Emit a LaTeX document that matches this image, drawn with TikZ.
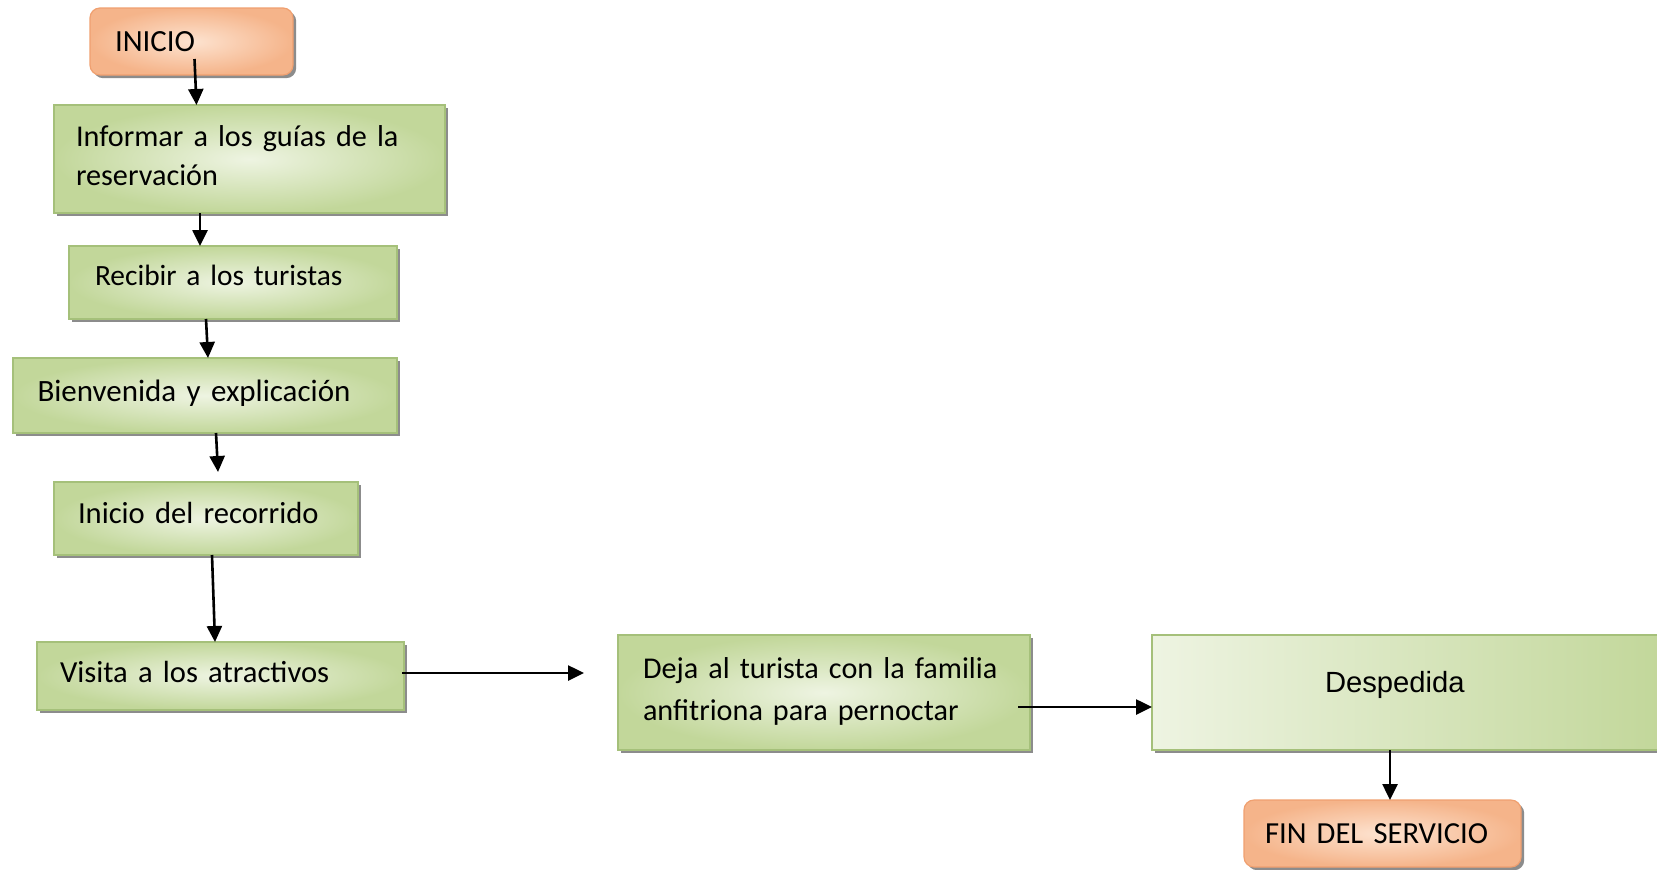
\documentclass[tikz,border=0pt]{standalone}
\usepackage{fontspec}
\setmainfont[WordSpace=0.85]{Carlito}
\newfontfamily\despfont{Liberation Sans}
\usetikzlibrary{arrows.meta,shadows}
\definecolor{gL}{HTML}{EEF4E2}
\definecolor{gD}{HTML}{C2D79A}
\definecolor{gB}{HTML}{A5C07A}
\definecolor{oL}{HTML}{FDE3D0}
\definecolor{oD}{HTML}{F5B48A}
\definecolor{oB}{HTML}{F0A070}
\tikzset{
  boxbase/.style={draw, line width=0.6pt, inner ysep=0pt, outer sep=0pt, align=left,
    execute at begin node=\strut,
    drop shadow={shadow xshift=1.6pt, shadow yshift=-1.6pt, fill=black!45, opacity=1}},
  fs/.style={font=\fontsize{#1}{19.5pt}\selectfont},
  lift/.style={execute at end node={\strut\par\kern#1}},
  gbox/.style={boxbase, draw=gB, inner color=gL, outer color=gD},
  obox/.style={boxbase, draw=oB, rounded corners=5pt, inner color=oL, outer color=oD},
  arr/.style={line width=1.3pt, -{Triangle[width=7.5pt,length=8pt]}}
}
\begin{document}
\begin{tikzpicture}[x=0.5pt,y=-0.5pt]
\useasboundingbox[fill=white] (0,0) rectangle (1657,869);
\begin{scope}
\clip (0,0) rectangle (1657,869);
\node[obox, fs=15.4pt, lift=-1.7pt, minimum width=101.5pt, minimum height=33.5pt, inner xsep=12.5pt, text width=76.5pt] (inicio) at (191.5,41.5) {INICIO};
\node[gbox, font=\fontsize{15.1pt}{19.2pt}\selectfont, lift=0.8pt, minimum width=195.5pt, minimum height=54pt, inner xsep=11pt, text width=173.5pt] (informar) at (249.5,159) {Informar a los guías de la\\reservación};
\node[gbox, fs=14.7pt, lift=5.3pt, minimum width=164pt, minimum height=36.5pt, inner xsep=13pt, text width=138pt] (recibir) at (233,282.5) {Recibir a los turistas};
\node[gbox, fs=15.5pt, lift=2.3pt, minimum width=192pt, minimum height=37.5pt, inner xsep=12.25pt, text width=167.5pt] (bienv) at (205,395.5) {Bienvenida y explicación};
\node[gbox, fs=15.3pt, lift=3.3pt, minimum width=152pt, minimum height=36.5pt, inner xsep=12pt, text width=128pt] (recorrido) at (206,518.5) {Inicio del recorrido};
\node[gbox, fs=15.3pt, lift=1.8pt, minimum width=183.5pt, minimum height=34pt, inner xsep=11.5pt, text width=160.5pt] (visita) at (220.5,676) {Visita a los atractivos};
\node[gbox, font=\fontsize{15.1pt}{21pt}\selectfont, lift=1.9pt, minimum width=206pt, minimum height=57.5pt, inner xsep=12.5pt, text width=181pt] (deja) at (824,692.5) {Deja al turista con la familia\\anfitriona para pernoctar};
\node[gbox, font=\despfont\fontsize{14.6pt}{19.5pt}\selectfont, lift=8.3pt, minimum width=255pt, minimum height=57.5pt, inner xsep=86.5pt, text width=82pt, left color=gL, right color=gD] (desp) at (1407,692.5) {Despedida};
\node[obox, fs=15.3pt, lift=-1.7pt, minimum width=138.5pt, minimum height=33.5pt, inner xsep=10.5pt, text width=117.5pt] (fin) at (1382.5,833.5) {FIN DEL SERVICIO};

\draw[arr] ([xshift=1.5pt,yshift=8pt]inicio.south) -- ([xshift=-26.5pt]informar.north);
\draw[arr] ([xshift=-24.75pt]informar.south) -- ([xshift=-16.5pt]recibir.north);
\draw[arr] ([xshift=-13.5pt]recibir.south) -- ([xshift=1.5pt]bienv.north);
\draw[arr] ([xshift=5.5pt]bienv.south) -- ([xshift=6pt,yshift=5pt]recorrido.north);
\draw[arr] ([xshift=3pt]recorrido.south) -- ([xshift=-2.75pt]visita.north);
\draw[arr] ([xshift=-1pt,yshift=1.5pt]visita.east) -- ([xshift=-17pt,yshift=9.75pt]deja.west);
\draw[arr] ([xshift=-6pt,yshift=-7.25pt]deja.east) -- ([yshift=-7.25pt]desp.west);
\draw[arr] ([xshift=-8.5pt]desp.south) -- ([xshift=3.75pt]fin.north);
\end{scope}
\end{tikzpicture}
\end{document}
